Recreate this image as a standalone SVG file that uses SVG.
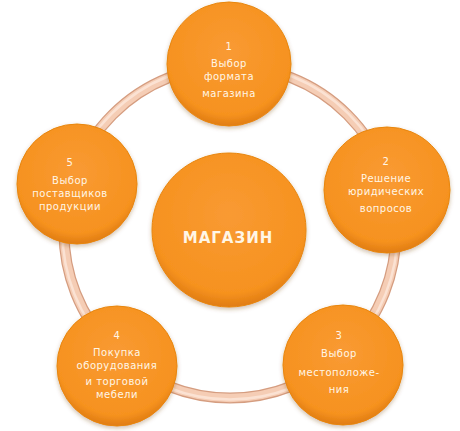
<svg xmlns="http://www.w3.org/2000/svg" width="460" height="431" viewBox="0 0 460 431">
<defs>
<radialGradient id="og" cx="50%" cy="40%" r="60%">
<stop offset="0" stop-color="#f99a33"/>
<stop offset="0.85" stop-color="#f6921f"/>
<stop offset="1" stop-color="#e07c12"/>
</radialGradient>
<filter id="sh" x="-20%" y="-20%" width="140%" height="140%">
<feDropShadow dx="0" dy="2" stdDeviation="2" flood-color="#7a4a20" flood-opacity="0.35"/>
</filter>
</defs>
<style>
.n{fill:url(#og);stroke:#e8860f;stroke-width:1;filter:url(#sh)}
.t{font-family:"DejaVu Sans",sans-serif;font-size:10px;fill:#fff6e6;text-anchor:middle;letter-spacing:0.5px}
.c{font-family:"DejaVu Sans",sans-serif;font-size:15px;font-weight:bold;fill:#fff6e6;text-anchor:middle;letter-spacing:1px}
</style>
<rect width="460" height="431" fill="#ffffff"/>
<g id="connectors">
<circle cx="230" cy="232" r="166" fill="none" stroke="#d59d80" stroke-width="11"/>
<circle cx="230" cy="232" r="166" fill="none" stroke="#f5cdb5" stroke-width="8.5"/>
<circle cx="230" cy="232" r="167.5" fill="none" stroke="#fbe2d3" stroke-width="2.5"/>
</g>
<g id="center">
<circle class="n" cx="229" cy="230" r="77"/>
<text class="c" x="228" y="243">МАГАЗИН</text>
</g>
<g id="node1">
<circle class="n" cx="229" cy="64" r="62"/>
<text class="t" x="229" y="50">1</text>
<text class="t" x="229" y="67">Выбор</text>
<text class="t" x="229" y="80">формата</text>
<text class="t" x="229" y="97">магазина</text>
</g>
<g id="node2">
<circle class="n" cx="387" cy="190" r="63"/>
<text class="t" x="386" y="165">2</text>
<text class="t" x="386" y="182">Решение</text>
<text class="t" x="386" y="195">юридических</text>
<text class="t" x="386" y="212">вопросов</text>
</g>
<g id="node3">
<circle class="n" cx="343" cy="365" r="60"/>
<text class="t" x="339" y="339">3</text>
<text class="t" x="339" y="357">Выбор</text>
<text class="t" x="339" y="376">местоположе-</text>
<text class="t" x="339" y="393">ния</text>
</g>
<g id="node4">
<circle class="n" cx="117" cy="366" r="60"/>
<text class="t" x="117" y="339">4</text>
<text class="t" x="117" y="356">Покупка</text>
<text class="t" x="117" y="369">оборудования</text>
<text class="t" x="117" y="385">и торговой</text>
<text class="t" x="117" y="398">мебели</text>
</g>
<g id="node5">
<circle class="n" cx="77" cy="184" r="60"/>
<text class="t" x="70" y="166">5</text>
<text class="t" x="70" y="184">Выбор</text>
<text class="t" x="70" y="197">поставщиков</text>
<text class="t" x="70" y="210">продукции</text>
</g>
</svg>
